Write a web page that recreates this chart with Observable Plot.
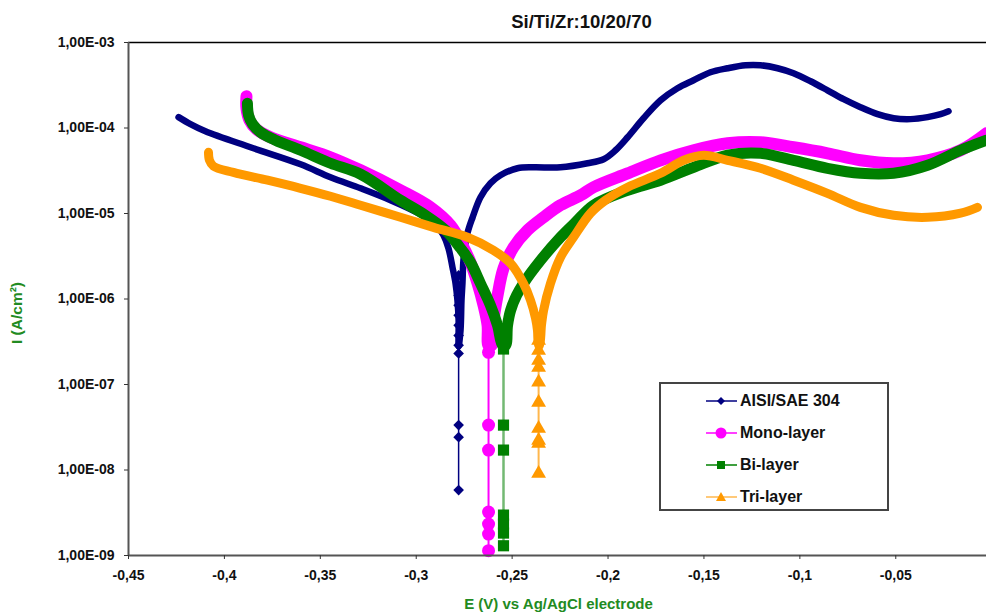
<!DOCTYPE html>
<html>
<head>
<meta charset="utf-8">
<script src="https://cdn.jsdelivr.net/npm/d3@7"></script>
<script src="https://cdn.jsdelivr.net/npm/@observablehq/plot@0.6"></script>
<style>
  body { margin: 0; background: #fff; font-family: "Liberation Sans", Arial, sans-serif; }
  #wrap { position: relative; width: 986px; height: 612px; overflow: hidden; }
  #legend { position: absolute; left: 659px; top: 382px; width: 226px; height: 125px; border: 2px solid #444; background: #fff; }
  .row { position: absolute; left: 45px; height: 20px; display: flex; align-items: center; font-weight: bold; font-size: 16px; color: #111; }
  .row svg { margin-right: 3px; }
</style>
</head>
<body>
<div id="wrap"><div id="chart"></div><div id="legend"></div></div>
<script>
const titleText = "Si/Ti/Zr:10/20/70";
const xLabel = "E (V) vs Ag/AgCl electrode";
const yLabel = "I (A/cm²)";

const seriesNames = ["AISI/SAE 304", "Mono-layer", "Bi-layer", "Tri-layer"];
const seriesColors = ["#000080", "#FF00FF", "#008000", "#FF9900"];
const seriesSymbols = ["diamond2", "circle", "square", "triangle"];

const xTicks = [-0.45, -0.4, -0.35, -0.3, -0.25, -0.2, -0.15, -0.1, -0.05];
const xTickLabels = ["-0,45", "-0,4", "-0,35", "-0,3", "-0,25", "-0,2", "-0,15", "-0,1", "-0,05"];
const yTicks = [1e-9, 1e-8, 1e-7, 1e-6, 1e-5, 1e-4, 1e-3];
const yTickLabels = ["1,00E-09", "1,00E-08", "1,00E-07", "1,00E-06", "1,00E-05", "1,00E-04", "1,00E-03"];

// AISI/SAE 304
const aisiE = [-0.4239,-0.4177,-0.4099,-0.3864,-0.3603,-0.3447,-0.3290,-0.3134,-0.2978,-0.2899,-0.2858,-0.2832,-0.2811,-0.2795,-0.2785,-0.2779,-0.2779,
  -0.2769,-0.2764,-0.2759,-0.2753,-0.2733,-0.2706,-0.2665,-0.2613,-0.2561,-0.2472,-0.2388,-0.2248,-0.2107,-0.2023,-0.1961,-0.1898,-0.1815,-0.1726,-0.1638,-0.1554,-0.1466,-0.1377,-0.1283,-0.1205,-0.1116,-0.1033,-0.0944,-0.0856,-0.0772,-0.0684,-0.0595,-0.0511,-0.0423,-0.0334,-0.0266,-0.0225];
const aisiI = [1.34e-4,1.11e-4,9.16e-5,5.95e-5,3.76e-5,2.65e-5,1.97e-5,1.43e-5,9.79e-6,7.47e-6,5.56e-6,3.92e-6,2.35e-6,1.52e-6,9.64e-7,5.6e-7,2.8e-7,
  4.3e-7,9.64e-7,1.52e-6,3.0e-6,5.86e-6,9.03e-6,1.55e-5,2.26e-5,2.80e-5,3.38e-5,3.47e-5,3.47e-5,3.87e-5,4.31e-5,5.49e-5,7.79e-5,1.30e-4,2.11e-4,2.92e-4,3.62e-4,4.49e-4,5.00e-4,5.42e-4,5.42e-4,5.00e-4,4.37e-4,3.52e-4,2.76e-4,2.17e-4,1.75e-4,1.45e-4,1.30e-4,1.27e-4,1.34e-4,1.45e-4,1.57e-4];
const aisiTailE = -0.2779;
const aisiTailI = [1.89e-6,1.44e-6,1.10e-6,8.43e-7,6.44e-7,4.92e-7,3.75e-7,2.87e-7,2.31e-7,3.35e-8,2.42e-8,5.82e-9];

// Mono-layer
const monoE = [-0.3885,-0.3885,-0.3869,-0.3833,-0.3760,-0.3603,-0.3447,-0.3290,-0.3082,-0.2925,-0.2821,-0.2759,-0.2717,-0.2680,-0.2649,-0.2628,-0.2623,
  -0.2607,-0.2597,-0.2576,-0.2545,-0.2493,-0.2420,-0.2336,-0.2248,-0.2143,-0.2076,-0.1898,-0.1726,-0.1554,-0.1377,-0.1205,-0.1033,-0.0856,-0.0684,-0.0511,-0.0334,-0.0162,-0.0027];
const monoI = [2.35e-4,1.70e-4,1.23e-4,9.67e-5,7.79e-5,5.95e-5,4.55e-5,3.20e-5,1.87e-5,1.18e-5,7.27e-6,4.25e-6,2.68e-6,1.52e-6,8.43e-7,4.92e-7,2.87e-7,
  2.87e-7,5.62e-7,1.10e-6,2.28e-6,4.02e-6,6.36e-6,9.03e-6,1.25e-5,1.63e-5,2.03e-5,2.95e-5,4.19e-5,5.49e-5,6.63e-5,6.81e-5,5.95e-5,5.06e-5,4.19e-5,3.87e-5,4.19e-5,5.49e-5,8.68e-5];
const monoTailE = -0.2623;
const monoTailI = [2.38e-7,3.35e-8,1.71e-8,3.22e-9,2.33e-9,1.78e-9,1.14e-9];

// Bi-layer
const biE = [-0.3880,-0.3874,-0.3853,-0.3812,-0.3734,-0.3603,-0.3447,-0.3290,-0.3082,-0.2952,-0.2847,-0.2769,-0.2717,-0.2665,-0.2613,-0.2576,-0.2550,
  -0.2534,-0.2524,-0.2508,-0.2477,-0.2441,-0.2352,-0.2248,-0.2169,-0.2076,-0.1898,-0.1726,-0.1554,-0.1377,-0.1205,-0.1033,-0.0856,-0.0684,-0.0511,-0.0334,-0.0162,-0.0027];
const biI = [1.95e-4,1.41e-4,1.11e-4,8.92e-5,7.19e-5,5.49e-5,3.87e-5,2.88e-5,1.43e-5,9.53e-6,6.36e-6,3.92e-6,2.68e-6,1.52e-6,8.43e-7,4.92e-7,2.87e-7,
  2.87e-7,4.92e-7,7.37e-7,1.10e-6,1.52e-6,2.83e-6,5.27e-6,7.89e-6,1.25e-5,1.87e-5,2.45e-5,3.47e-5,4.80e-5,5.06e-5,4.19e-5,3.38e-5,2.95e-5,2.95e-5,3.66e-5,5.49e-5,7.19e-5];
const biTailE = -0.2545;
const biTailI = [2.6e-7,3.35e-8,1.71e-8,2.97e-9,2.33e-9,1.83e-9,1.30e-9];

// Tri-layer
const triE = [-0.4083,-0.4078,-0.4057,-0.3953,-0.3775,-0.3603,-0.3447,-0.3290,-0.3082,-0.2910,-0.2733,-0.2597,-0.2508,-0.2441,-0.2404,-0.2378,-0.2368,-0.2362,
  -0.2357,-0.2347,-0.2336,-0.2300,-0.2248,-0.2180,-0.2091,-0.2013,-0.1898,-0.1726,-0.1606,-0.1502,-0.1377,-0.1205,-0.1033,-0.0856,-0.0684,-0.0511,-0.0334,-0.0162,-0.0074];
const triI = [5.20e-5,4.19e-5,3.57e-5,3.03e-5,2.45e-5,1.97e-5,1.59e-5,1.25e-5,9.03e-6,6.89e-6,5.27e-6,3.71e-6,2.61e-6,1.52e-6,9.64e-7,5.94e-7,4.30e-7,2.87e-7,
  2.87e-7,4.92e-7,7.37e-7,1.52e-6,3.07e-6,5.27e-6,1.01e-5,1.43e-5,2.03e-5,2.95e-5,4.19e-5,4.80e-5,4.19e-5,3.38e-5,2.45e-5,1.72e-5,1.18e-5,9.53e-6,9.03e-6,1.01e-5,1.18e-5];
const triTailE = -0.2362;
const triTailI = [3.28e-7,2.5e-7,1.91e-7,1.58e-7,1.06e-7,6.17e-8,3.06e-8,2.22e-8,2.04e-8,9.11e-9];

const toRows = (E, I) => E.map((e, i) => ({E: e, I: I[i]}));
const tailRows = (e, I) => I.map(v => ({E: e, I: v}));

const curves = [toRows(aisiE, aisiI), toRows(monoE, monoI), toRows(biE, biI), toRows(triE, triI)];
const tails = [tailRows(aisiTailE, aisiTailI), tailRows(monoTailE, monoTailI), tailRows(biTailE, biTailI), tailRows(triTailE, triTailI)];
const widths = [6.5, 12, 11, 9];
const tailWidths = [1.5, 2, 2.5, 2];
const tailOpacity = [1, 1, 0.55, 0.7];
const dotR = [4.8, 6.5, 6.3, 5.5];

const marks = [
  Plot.ruleY([1e-3], {stroke: "#000", strokeWidth: 1.5}),
];
for (let k = 0; k < 4; k++) {
  const t = tails[k];
  const ends = [t.reduce((a, b) => a.I > b.I ? a : b), t.reduce((a, b) => a.I < b.I ? a : b)];
  marks.push(Plot.line(ends, {x: "E", y: "I", stroke: seriesColors[k], strokeWidth: tailWidths[k], strokeOpacity: tailOpacity[k]}));
  marks.push(Plot.line(curves[k], {x: "E", y: "I", stroke: seriesColors[k], strokeWidth: widths[k], curve: "catmull-rom", strokeLinecap: "round", strokeLinejoin: "round"}));
  marks.push(Plot.dot(t, {x: "E", y: "I", fill: seriesColors[k], stroke: "none", symbol: seriesSymbols[k], r: dotR[k]}));
}
marks.push(Plot.ruleX([-0.45], {stroke: "#555", strokeWidth: 2}));
marks.push(Plot.ruleY([1e-9], {stroke: "#555", strokeWidth: 2}));
marks.push(Plot.axisX({ticks: xTicks, tickFormat: d => xTickLabels[xTicks.indexOf(d)], tickSize: 4, tickPadding: 11, label: null, stroke: "#333", fill: "#111"}));
marks.push(Plot.axisY({ticks: yTicks, tickFormat: d => yTickLabels[yTicks.indexOf(d)], tickSize: 4, tickPadding: 10, label: null, stroke: "#333", fill: "#111"}));
marks.push(Plot.text([titleText], {frameAnchor: "top", lineAnchor: "middle", dy: -20, dx: 24, fontSize: 18.5, fontWeight: "bold", fill: "#111"}));
marks.push(Plot.text([xLabel], {frameAnchor: "bottom", lineAnchor: "middle", dy: 49, dx: 1, fontSize: 15, fontWeight: "bold", fill: "#228B22"}));
marks.push(Plot.text([yLabel], {frameAnchor: "left", textAnchor: "middle", lineAnchor: "middle", dx: -111, dy: 14, rotate: -90, fontSize: 15.5, fontWeight: "bold", fill: "#228B22"}));

const chart = Plot.plot({
  width: 986, height: 612,
  marginLeft: 128, marginRight: 0, marginTop: 42, marginBottom: 57,
  x: {domain: [-0.45, -0.0027]},
  y: {type: "log", domain: [1e-9, 1e-3]},
  style: {fontFamily: "'Liberation Sans', Arial, sans-serif", fontSize: "14px", fontWeight: "bold", background: "#fff", overflow: "visible"},
  marks
});
document.getElementById("chart").appendChild(chart);

// legend
const legend = document.getElementById("legend");
const symPaths = {
  "diamond2": "M15,3 L19,7 L15,11 L11,7 Z",
  "square": "M11,3 H19 V11 H11 Z",
  "triangle": "M15,2 L20,11 L10,11 Z"
};
seriesNames.forEach((name, k) => {
  const row = document.createElement("div");
  row.className = "row";
  row.style.top = (7 + k * 32) + "px";
  const c = seriesColors[k];
  const sym = seriesSymbols[k] === "circle"
    ? `<circle cx="15" cy="7" r="5.5" fill="${c}"/>`
    : `<path d="${symPaths[seriesSymbols[k]]}" fill="${c}"/>`;
  row.innerHTML = `<svg width="31" height="14"><line x1="0" y1="7" x2="31" y2="7" stroke="${c}" stroke-width="1.5" stroke-opacity="${k === 3 ? 0.7 : 1}"/>${sym}</svg><span>${name}</span>`;
  legend.appendChild(row);
});
</script>
</body>
</html>
